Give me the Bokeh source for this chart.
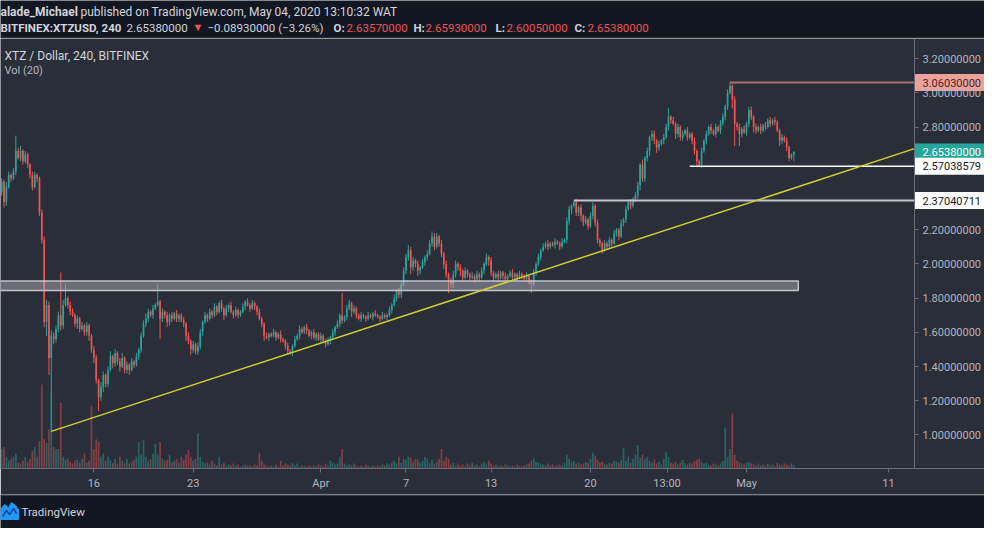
from bokeh.plotting import figure
from bokeh.models import Range1d, LinearAxis, FixedTicker, Label, ColumnDataSource, PrintfTickFormatter
from bokeh.layouts import column
from bokeh.embed import file_html
from bokeh.resources import INLINE
from bokeh.core.properties import value

# ---------------- data (4h candles, XTZ/USD Bitfinex) ----------------
# time unit: days since Mar 1 2020 00:00
START_DAY = 8.5          # first candle: Mar 9 12:00
BAR_DAYS = 1.0 / 6.0     # 4 hours
FIRST_OPEN = 2.42

CLOSES = [
    2.48, 2.36, 2.45, 2.52, 2.50, 2.54, 2.66, 2.62, 2.66, 2.60, 2.64, 2.58,
    2.52, 2.45, 2.52, 2.50, 2.30, 2.14, 1.66, 1.76, 1.45, 1.58, 1.56, 1.62,
    1.70, 1.64, 1.76, 1.80, 1.76, 1.72, 1.70, 1.65, 1.68, 1.62, 1.64, 1.60,
    1.64, 1.58, 1.50, 1.45, 1.32, 1.22, 1.28, 1.35, 1.30, 1.38, 1.46, 1.42,
    1.48, 1.43, 1.40, 1.45, 1.38, 1.41, 1.38, 1.43, 1.41, 1.46, 1.50, 1.58,
    1.65, 1.68, 1.72, 1.70, 1.74, 1.76, 1.78, 1.68, 1.72, 1.70, 1.66, 1.70,
    1.68, 1.71, 1.68, 1.70, 1.67, 1.65, 1.58, 1.55, 1.50, 1.53, 1.49, 1.52,
    1.60, 1.66, 1.70, 1.68, 1.72, 1.70, 1.75, 1.72, 1.77, 1.74, 1.70, 1.74,
    1.76, 1.72, 1.70, 1.73, 1.70, 1.72, 1.75, 1.78, 1.76, 1.74, 1.77, 1.75,
    1.72, 1.68, 1.65, 1.58, 1.57, 1.59, 1.58, 1.60, 1.57, 1.59, 1.56, 1.55,
    1.52, 1.49, 1.48, 1.52, 1.56, 1.58, 1.62, 1.60, 1.63, 1.61, 1.58, 1.60,
    1.57, 1.59, 1.56, 1.58, 1.55, 1.53, 1.55, 1.57, 1.60, 1.63, 1.65, 1.70,
    1.67, 1.69, 1.74, 1.77, 1.72, 1.74, 1.70, 1.68, 1.70, 1.69, 1.68, 1.70,
    1.69, 1.71, 1.70, 1.69, 1.68, 1.70, 1.69, 1.70, 1.73, 1.76, 1.80, 1.84,
    1.82, 1.88, 1.96, 2.04, 2.08, 1.98, 2.02, 2.00, 1.96, 1.98, 2.01, 2.04,
    2.06, 2.12, 2.16, 2.10, 2.16, 2.12, 2.06, 2.00, 1.94, 1.90, 1.88, 1.94,
    2.00, 1.98, 1.96, 1.92, 1.96, 1.94, 1.92, 1.93, 1.91, 1.94, 1.92, 1.96,
    2.00, 2.04, 2.02, 1.95, 1.92, 1.94, 1.92, 1.95, 1.93, 1.91, 1.93, 1.95,
    1.92, 1.94, 1.92, 1.94, 1.93, 1.91, 1.93, 1.90, 1.88, 1.95, 2.00, 2.04,
    2.08, 2.10, 2.12, 2.10, 2.12, 2.11, 2.13, 2.12, 2.10, 2.13, 2.14, 2.25,
    2.32, 2.34, 2.36, 2.30, 2.33, 2.28, 2.24, 2.26, 2.22, 2.28, 2.34, 2.24,
    2.14, 2.12, 2.08, 2.12, 2.10, 2.14, 2.12, 2.18, 2.20, 2.16, 2.24, 2.26,
    2.32, 2.36, 2.34, 2.38, 2.40, 2.46, 2.58, 2.50, 2.62, 2.66, 2.74, 2.76,
    2.72, 2.68, 2.70, 2.72, 2.74, 2.80, 2.86, 2.84, 2.82, 2.76, 2.80, 2.74,
    2.76, 2.78, 2.74, 2.76, 2.72, 2.66, 2.60, 2.58, 2.66, 2.72, 2.76, 2.80,
    2.78, 2.76, 2.80, 2.78, 2.82, 2.86, 2.92, 3.00, 3.04, 2.96, 2.82, 2.80,
    2.76, 2.79, 2.77, 2.82, 2.90, 2.86, 2.80, 2.78, 2.80, 2.78, 2.81, 2.80,
    2.84, 2.82, 2.84, 2.83, 2.78, 2.72, 2.74, 2.72, 2.68, 2.62, 2.6357, 2.6538,
]

UPPER_WICK_CENTS = [
    2, 1, 3, 2, 1, 2, 9, 2, 3, 1, 2, 1,
    1, 2, 2, 1, 1, 2, 2, 3, 2, 3, 2, 2,
    2, 25, 3, 8, 1, 2, 2, 1, 2, 1, 2, 1,
    2, 1, 1, 2, 2, 1, 3, 2, 1, 2, 3, 1,
    2, 1, 2, 3, 1, 2, 1, 2, 1, 2, 1, 2,
    2, 3, 2, 1, 2, 1, 10, 1, 2, 1, 2, 1,
    2, 1, 2, 1, 1, 2, 1, 2, 1, 2, 1, 2,
    2, 1, 2, 1, 2, 1, 2, 1, 1, 2, 1, 2,
    1, 2, 1, 2, 1, 1, 2, 1, 2, 1, 2, 1,
    1, 2, 1, 1, 2, 1, 1, 2, 1, 1, 2, 1,
    1, 2, 1, 1, 2, 1, 2, 1, 1, 2, 1, 1,
    2, 1, 1, 2, 1, 1, 2, 1, 2, 1, 2, 1,
    13, 1, 2, 2, 1, 2, 1, 1, 2, 1, 1, 2,
    1, 1, 2, 1, 1, 2, 1, 1, 2, 1, 2, 1,
    2, 1, 2, 2, 3, 2, 2, 1, 2, 1, 2, 1,
    2, 2, 3, 2, 2, 1, 2, 1, 2, 1, 2, 2,
    2, 1, 2, 1, 2, 1, 1, 2, 1, 2, 1, 2,
    1, 2, 1, 2, 1, 1, 2, 1, 1, 2, 1, 1,
    2, 1, 1, 2, 1, 1, 2, 1, 1, 2, 1, 2,
    1, 2, 1, 2, 1, 1, 2, 1, 1, 2, 1, 2,
    2, 1, 1, 2, 1, 2, 1, 2, 1, 2, 2, 1,
    2, 1, 1, 2, 1, 2, 1, 2, 1, 1, 2, 1,
    2, 1, 2, 1, 2, 2, 1, 3, 1, 2, 1, 2,
    2, 1, 2, 1, 2, 2, 5, 1, 2, 1, 2, 1,
    2, 1, 2, 1, 1, 2, 1, 1, 2, 1, 2, 1,
    2, 1, 2, 1, 2, 2, 1, 2, 2.03, 1, 2, 1,
    2, 1, 2, 1, 2, 2, 1, 2, 1, 2, 1, 2,
    1, 2, 1, 2, 1, 1, 2, 1, 2, 1, 1, 0.55,
]

LOWER_WICK_CENTS = [
    2, 3, 2, 1, 2, 1, 2, 1, 2, 2, 1, 2,
    2, 2, 1, 2, 2, 2, 3, 8, 10, 43, 3, 2,
    2, 3, 2, 1, 2, 2, 1, 2, 3, 2, 1, 2,
    2, 3, 2, 3, 2, 8, 2, 3, 2, 2, 1, 3,
    2, 2, 3, 1, 2, 2, 3, 1, 2, 1, 2, 2,
    1, 2, 2, 1, 2, 1, 1, 12, 2, 2, 3, 2,
    2, 1, 2, 2, 1, 2, 3, 2, 3, 2, 2, 2,
    2, 2, 1, 2, 1, 2, 1, 2, 1, 2, 3, 1,
    2, 1, 2, 1, 2, 1, 1, 2, 1, 2, 1, 2,
    2, 1, 2, 3, 1, 2, 1, 1, 2, 1, 2, 1,
    2, 2, 1, 2, 1, 1, 2, 1, 1, 2, 1, 2,
    1, 2, 1, 2, 1, 2, 1, 2, 1, 2, 1, 2,
    2, 1, 2, 1, 3, 1, 2, 1, 2, 1, 2, 1,
    1, 2, 1, 1, 2, 1, 1, 2, 1, 2, 1, 2,
    2, 2, 1, 2, 2, 4, 2, 2, 3, 2, 1, 2,
    2, 1, 2, 2, 1, 2, 2, 3, 2, 7, 2, 2,
    2, 2, 3, 2, 1, 2, 2, 1, 2, 1, 2, 1,
    2, 1, 3, 2, 2, 1, 2, 1, 2, 1, 2, 1,
    2, 1, 2, 1, 2, 1, 1, 2, 5, 1, 2, 1,
    2, 1, 1, 2, 1, 1, 2, 1, 2, 1, 1, 2,
    2, 3, 1, 2, 2, 3, 2, 1, 2, 1, 2, 2,
    2, 2, 2, 1, 2, 1, 2, 1, 2, 2, 1, 2,
    2, 1, 2, 1, 2, 2, 3, 2, 2, 2, 3, 2,
    2, 3, 2, 1, 2, 1, 2, 2, 1, 3, 2, 2,
    2, 1, 2, 1, 2, 2, 3, 1, 2, 1, 2, 1,
    2, 1, 2, 1, 2, 1, 2, 2, 1, 5, 13, 2,
    7, 2, 1, 2, 2, 2, 3, 2, 1, 2, 1, 2,
    1, 2, 1, 2, 1, 3, 2, 1, 2, 2, 1, 3.52,
]

VOLUME = [
    20, 22, 12, 8, 10, 12, 15, 6, 5, 8, 12, 7,
    10, 18, 22, 12, 28, 86, 30, 26, 40, 78, 22, 20,
    20, 67, 12, 9, 10, 7, 5, 8, 9, 6, 10, 15,
    6, 8, 64, 20, 30, 28, 12, 15, 8, 12, 9, 6,
    10, 5, 12, 8, 6, 10, 5, 7, 9, 12, 27, 14,
    29, 12, 8, 10, 15, 25, 14, 27, 10, 8, 9, 14,
    6, 8, 10, 6, 12, 9, 14, 19, 12, 8, 10, 36,
    12, 7, 5, 6, 4, 8, 5, 3, 12, 4, 6, 3,
    4, 3, 5, 3, 4, 2, 3, 4, 3, 3, 2, 4,
    3, 16, 8, 4, 3, 2, 3, 2, 4, 2, 8, 3,
    5, 4, 3, 6, 3, 5, 2, 3, 3, 2, 3, 2,
    3, 2, 4, 3, 2, 5, 3, 8, 6, 4, 5, 12,
    20, 5, 3, 4, 3, 5, 3, 2, 3, 2, 4, 3,
    2, 3, 2, 3, 2, 4, 3, 5, 4, 6, 8, 5,
    12, 6, 10, 9, 12, 11, 7, 10, 9, 6, 8, 12,
    10, 6, 9, 5, 7, 10, 20, 8, 12, 10, 4, 6,
    3, 5, 3, 4, 2, 5, 3, 6, 3, 4, 2, 5,
    7, 4, 8, 5, 3, 4, 2, 3, 2, 4, 3, 2,
    3, 2, 4, 3, 2, 3, 4, 5, 8, 10, 7, 6,
    5, 4, 3, 5, 3, 4, 2, 3, 4, 3, 6, 14,
    10, 7, 8, 5, 6, 4, 5, 7, 6, 10, 16, 13,
    9, 6, 7, 5, 4, 6, 5, 8, 7, 6, 9, 21,
    8, 12, 6, 10, 14, 24, 11, 14, 10, 12, 8, 6,
    9, 5, 7, 4, 10, 17, 12, 6, 5, 7, 4, 6,
    9, 5, 4, 6, 5, 8, 9, 10, 7, 5, 6, 4,
    3, 5, 4, 3, 5, 8, 42, 12, 20, 56, 14, 8,
    6, 5, 4, 6, 7, 5, 4, 3, 5, 3, 4, 3,
    5, 3, 4, 2, 6, 4, 3, 5, 4, 3, 5, 3,
]

PRICE_TICKS = [1.0, 1.2, 1.4, 1.6, 1.8, 2.0, 2.2, 2.8, 3.0, 3.2]
TIME_TICKS = [15, 22, 31, 37, 43, 50, 55.4, 61, 71]
TIME_LABELS = ["16", "23", "Apr", "7", "13", "20", "13:00", "May", "11"]

ZONE_LOW, ZONE_HIGH, ZONE_END_DAY = 1.845, 1.90, 64.65
HIGH_LEVEL, HIGH_LEVEL_IDX = 3.0603, 308
SUPPORT_1, SUPPORT_1_DAY = 2.57038579, 57.0
SUPPORT_2, SUPPORT_2_IDX = 2.37040711, 242
TREND_DAYS = [12.0, 43.1]
TREND_PRICES = [1.021, 1.866]
LAST_PRICE = 2.6538

# ---------------- style ----------------
BG = "#2a2e39"
DARK = "#131722"
UP = "#26a69a"
DOWN = "#ef5350"
TXT = "#b2b5be"
LIGHT = "#d1d4dc"
AXLINE = "#6a6d78"
FONT = "Roboto"

W = 984
AXIS_W = 70
HDR_H, FTR_H = 38, 34
MAIN_H = 528 - HDR_H - FTR_H
X0, X1 = 8.42, 72.84                      # visible time span of the candle pane
X_END = X0 + (X1 - X0) * W / (W - AXIS_W)  # extra room for the price scale
Y0, Y1 = 0.804, 3.318

# ---------------- derived candle columns ----------------
n = len(CLOSES)
opens = [FIRST_OPEN] + CLOSES[:-1]
days = [START_DAY + i * BAR_DAYS for i in range(n)]
highs = [max(o, c) + u / 100 for o, c, u in zip(opens, CLOSES, UPPER_WICK_CENTS)]
lows = [min(o, c) - l / 100 for o, c, l in zip(opens, CLOSES, LOWER_WICK_CENTS)]
colors = [UP if c >= o else DOWN for o, c in zip(opens, CLOSES)]
src = ColumnDataSource(dict(x=days, o=opens, c=CLOSES, h=highs, l=lows,
                            top=[max(o, c) for o, c in zip(opens, CLOSES)],
                            bot=[min(o, c) for o, c in zip(opens, CLOSES)],
                            vol=VOLUME, color=colors))

# ---------------- main chart ----------------
p = figure(width=W, height=MAIN_H, x_range=Range1d(X0, X_END), y_range=Range1d(Y0, Y1),
           output_backend="svg", toolbar_location=None,
           x_axis_location=None, y_axis_location=None,
           min_border_left=0, min_border_right=0, min_border_top=0, min_border_bottom=26,
           background_fill_color=BG, border_fill_color=BG, outline_line_color=None)
p.grid.visible = False
p.extra_y_ranges = {"vol": Range1d(0, 440)}

p.vbar(x="x", top="vol", bottom=0, width=BAR_DAYS * 0.72, source=src, y_range_name="vol",
       fill_color="color", fill_alpha=0.45, line_color=None)

p.segment(x0="x", y0="h", x1="x", y1="l", source=src, line_color="color", line_width=1)
p.vbar(x="x", top="top", bottom="bot", width=BAR_DAYS * 0.72, source=src,
       fill_color="color", line_color=None)

# support zone
p.quad(left=[X0 - 1], right=[ZONE_END_DAY], bottom=[ZONE_LOW], top=[ZONE_HIGH],
       fill_color="#b2b5be", fill_alpha=0.47, line_color="#c3c5cb", line_width=1.5)

# horizontal levels
p.segment(x0=[days[HIGH_LEVEL_IDX]], y0=[HIGH_LEVEL], x1=[X1], y1=[HIGH_LEVEL],
          line_color="#a5706e", line_width=2)
p.segment(x0=[SUPPORT_1_DAY], y0=[SUPPORT_1], x1=[X1], y1=[SUPPORT_1],
          line_color="#ffffff", line_width=1.5)
p.segment(x0=[days[SUPPORT_2_IDX]], y0=[SUPPORT_2], x1=[X1], y1=[SUPPORT_2],
          line_color="#c3c5cb", line_width=2)

# trend line (extended to the price scale)
slope = (TREND_PRICES[1] - TREND_PRICES[0]) / (TREND_DAYS[1] - TREND_DAYS[0])
p.line(x=[TREND_DAYS[0], X1], y=[TREND_PRICES[0], TREND_PRICES[0] + slope * (X1 - TREND_DAYS[0])],
       line_color="#cfcf2e", line_width=1.5)

# price scale: axis drawn at the right edge of the candle pane
yax = LinearAxis(ticker=FixedTicker(ticks=PRICE_TICKS), formatter=PrintfTickFormatter(format="%.8f"),
                 fixed_location=X1)
yax.axis_line_color = AXLINE
yax.major_tick_line_color = AXLINE
yax.major_tick_out = 4
yax.major_tick_in = 0
yax.minor_tick_line_color = None
yax.major_label_standoff = 4
yax.major_label_text_color = TXT
yax.major_label_text_font = FONT
yax.major_label_text_font_size = "11px"
p.add_layout(yax, "right")

xax = LinearAxis(ticker=FixedTicker(ticks=TIME_TICKS))
xax.major_label_overrides = {t: s for t, s in zip(TIME_TICKS, TIME_LABELS)}
xax.axis_line_color = AXLINE
xax.major_tick_line_color = AXLINE
xax.major_tick_out = 4
xax.major_tick_in = 0
xax.minor_tick_line_color = None
xax.major_label_standoff = 4
xax.major_label_text_color = TXT
xax.major_label_text_font = FONT
xax.major_label_text_font_size = "11px"
p.add_layout(xax, "below")

# price labels on the scale
LEVEL_VALUES = [HIGH_LEVEL, LAST_PRICE, SUPPORT_1, SUPPORT_2]
LEVEL_BG = ["#eda19c", UP, "#ffffff", "#ffffff"]
LEVEL_FG = ["#4a2424", "#ffffff", "#131722", "#131722"]
lab = ColumnDataSource(dict(x=[(X1 + X_END) / 2] * 4, x1=[X1] * 4, y=LEVEL_VALUES,
                            text=["%.8f" % v for v in LEVEL_VALUES], bg=LEVEL_BG, fg=LEVEL_FG))
p.rect(x="x", y="y", width=X_END - X1, height=17, height_units="screen", source=lab,
       fill_color="bg", line_color=None)
p.text(x="x1", y="y", text="text", x_offset=8, text_baseline="middle", text_align="left",
       text_color="fg", text_font=value(FONT), text_font_size="11px", source=lab)

p.add_layout(Label(x=X0, y=Y1, x_offset=4, y_offset=-17, text="XTZ / Dollar, 240, BITFINEX",
                   text_baseline="middle", text_color=LIGHT, text_font=FONT,
                   text_font_size="12px"))
p.add_layout(Label(x=X0, y=Y1, x_offset=4, y_offset=-32, text="Vol (20)",
                   text_baseline="middle", text_color=TXT, text_font=FONT,
                   text_font_size="11px"))

# ---------------- header ----------------
hdr = figure(width=W, height=HDR_H, x_range=Range1d(0, W), y_range=Range1d(HDR_H, 0),
             output_backend="svg", toolbar_location=None, x_axis_location=None, y_axis_location=None,
             min_border=0, background_fill_color=DARK, border_fill_color=DARK, outline_line_color=None)
hdr.grid.visible = False
hdr.segment(x0=[0], y0=[HDR_H - 0.5], x1=[W], y1=[HDR_H - 0.5], line_color="#434651", line_width=1)

header_parts = [
    ("alade_Michael", 0, 11, "bold", LIGHT, "12px"),
    ("published on TradingView.com, May 04, 2020 13:10:32 WAT", 80, 11, "normal", LIGHT, "12px"),
    ("BITFINEX:XTZUSD, 240", 0, 27, "bold", LIGHT, "11.5px"),
    ("2.65380000", 126, 27, "normal", LIGHT, "11.5px"),
    ("\u25bc", 192, 27, "normal", DOWN, "11px"),
    ("\u22120.08930000 (\u22123.26%)", 207, 27, "normal", LIGHT, "11.5px"),
    ("O:", 333, 27, "bold", LIGHT, "11.5px"),
    ("2.63570000", 346, 27, "normal", DOWN, "11.5px"),
    ("H:", 413, 27, "bold", LIGHT, "11.5px"),
    ("2.65930000", 425, 27, "normal", DOWN, "11.5px"),
    ("L:", 495, 27, "bold", LIGHT, "11.5px"),
    ("2.60050000", 506, 27, "normal", DOWN, "11.5px"),
    ("C:", 574, 27, "bold", LIGHT, "11.5px"),
    ("2.65380000", 587, 27, "normal", DOWN, "11.5px"),
]
for txt, hx, hy, style, col, size in header_parts:
    hdr.add_layout(Label(x=hx, y=hy, text=txt, text_baseline="middle", text_align="left",
                         text_color=col, text_font=FONT, text_font_style=style,
                         text_font_size=size))

# ---------------- footer ----------------
ftr = figure(width=W, height=FTR_H, x_range=Range1d(0, W), y_range=Range1d(FTR_H, 0),
             output_backend="svg", toolbar_location=None, x_axis_location=None, y_axis_location=None,
             min_border=0, background_fill_color=DARK, border_fill_color=DARK, outline_line_color=None)
ftr.grid.visible = False
ftr.segment(x0=[0], y0=[0.5], x1=[W], y1=[0.5], line_color="#5d606b", line_width=1)
ftr.patch(x=[0, 0, 4, 8, 11, 15, 18, 18], y=[25, 15, 10, 13, 8, 11, 15, 25],
          fill_color="#2196f3", line_color="#2196f3")
ftr.line(x=[2, 6, 9, 13, 16], y=[22, 16, 20, 14, 19], line_color="#0d47a1", line_width=1.5)
ftr.add_layout(Label(x=21, y=17, text="TradingView", text_baseline="middle", text_color=LIGHT,
                     text_font=FONT, text_font_size="11.5px"))

layout = column(hdr, p, ftr, spacing=0)
open("out.html", "w").write(file_html(layout, INLINE))
